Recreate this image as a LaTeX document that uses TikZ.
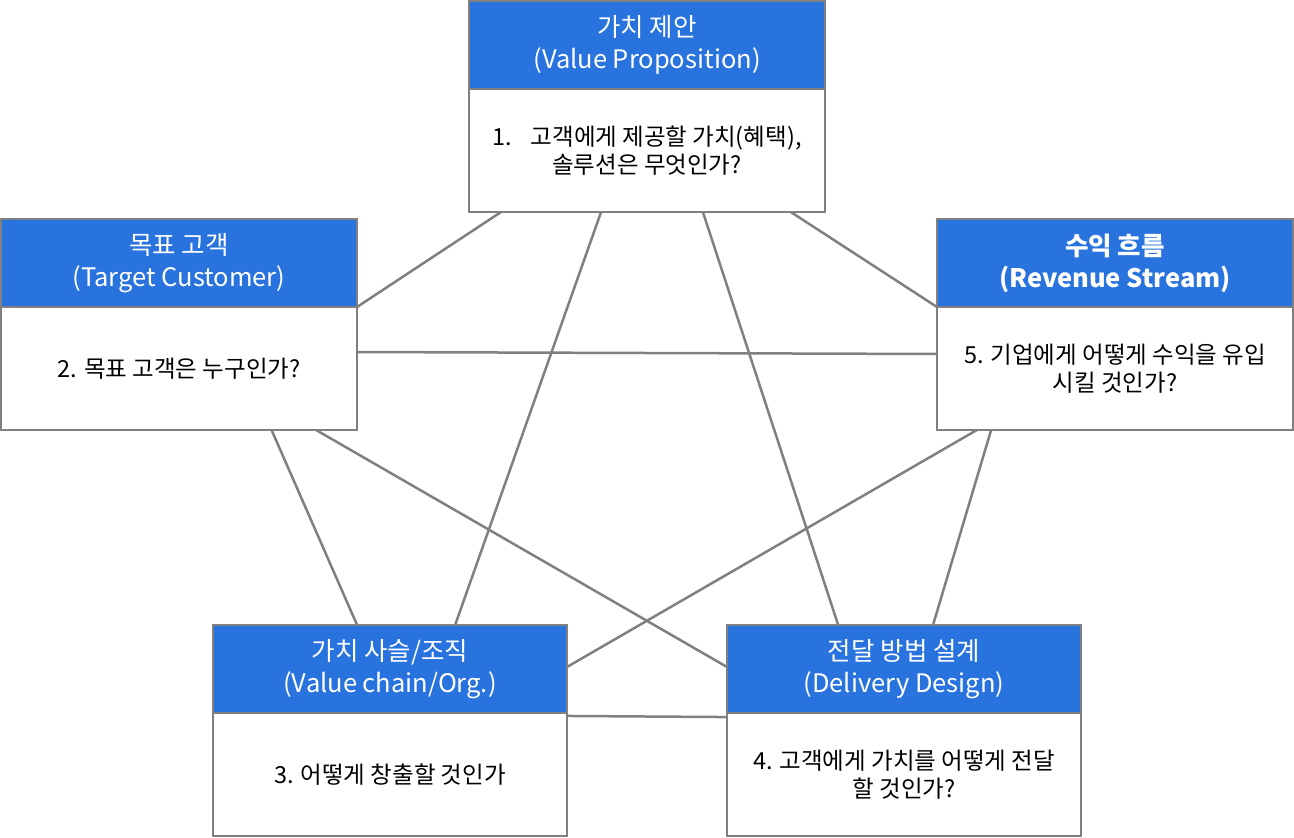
\documentclass[tikz,border=0pt]{standalone}
\usepackage{fontspec}
\setmainfont{Noto Sans CJK KR}
\usetikzlibrary{calc}
\definecolor{hdrblue}{RGB}{41,115,222}
\definecolor{edgegray}{RGB}{128,128,128}
\tikzset{
  boxbase/.style={rectangle, draw=edgegray, line width=2.5pt, inner sep=0pt, outer sep=0pt, align=center},
  hdr/.style={boxbase, fill=hdrblue, text=white, minimum height=88pt, font=\fontsize{25.5}{32}\selectfont},
  bodybox/.style={boxbase, fill=white, text=black, minimum height=123pt, font=\fontsize{23.5}{27.5}\selectfont},
  link/.style={draw=edgegray, line width=2.5pt},
}
\begin{document}
\begin{tikzpicture}[x=1pt,y=-1pt]
\useasboundingbox (0,0) rectangle (1294,838);
% Value Proposition
\node[hdr, minimum width=356pt] (vph) at (647,45) {가치 제안\\(Value Proposition)};
\node[bodybox, minimum width=356pt, anchor=north] (vpb) at (vph.south) {1.\hspace{0.8em}고객에게 제공할 가치(혜택),\\솔루션은 무엇인가?};
% Target Customer
\node[hdr, minimum width=356pt] (tch) at (179,263) {목표 고객\\(Target Customer)};
\node[bodybox, minimum width=356pt, anchor=north] (tcb) at (tch.south) {2. 목표 고객은 누구인가?};
% Revenue Stream
\node[hdr, minimum width=356pt, font=\fontsize{25.5}{32}\selectfont\bfseries] (rsh) at (1115,263) {수익 흐름\\(Revenue Stream)};
\node[bodybox, minimum width=356pt, anchor=north] (rsb) at (rsh.south) {5. 기업에게 어떻게 수익을 유입\\시킬 것인가?};
% Value chain
\node[hdr, minimum width=354pt] (vch) at (390,669) {가치 사슬/조직\\(Value chain/Org.)};
\node[bodybox, minimum width=354pt, anchor=north] (vcb) at (vch.south) {3. 어떻게 창출할 것인가};
% Delivery Design
\node[hdr, minimum width=354pt] (ddh) at (904,669) {전달 방법 설계\\(Delivery Design)};
\node[bodybox, minimum width=354pt, anchor=north] (ddb) at (ddh.south) {4. 고객에게 가치를 어떻게 전달\\할 것인가?};
% connectors
\draw[link] ($(vpb.south west)!0.09!(vpb.south east)$) -- (tcb.north east);
\draw[link] ($(vpb.south west)!0.371!(vpb.south east)$) -- ($(vch.north west)!0.684!(vch.north east)$);
\draw[link] ($(vpb.south west)!0.657!(vpb.south east)$) -- ($(ddh.north west)!0.314!(ddh.north east)$);
\draw[link] ($(vpb.south west)!0.904!(vpb.south east)$) -- (rsb.north west);
\draw[link] ($(tcb.north east)!0.366!(tcb.south east)$) -- ($(rsb.north west)!0.382!(rsb.south west)$);
\draw[link] ($(tcb.south west)!0.76!(tcb.south east)$) -- ($(vch.north west)!0.407!(vch.north east)$);
\draw[link] ($(tcb.south west)!0.885!(tcb.south east)$) -- ($(ddh.north west)!0.477!(ddh.south west)$);
\draw[link] ($(rsb.south west)!0.112!(rsb.south east)$) -- ($(vch.north east)!0.477!(vch.south east)$);
\draw[link] ($(rsb.south west)!0.152!(rsb.south east)$) -- ($(ddh.north west)!0.582!(ddh.north east)$);
\draw[link] ($(vcb.north east)!0.024!(vcb.south east)$) -- ($(ddb.north west)!0.033!(ddb.south west)$);
\end{tikzpicture}
\end{document}
